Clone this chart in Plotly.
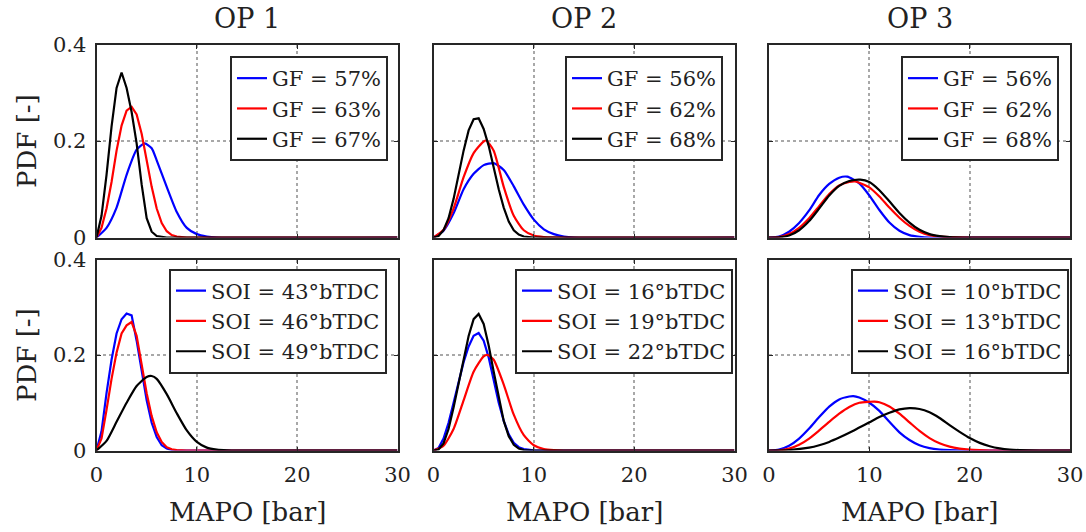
import plotly.graph_objects as go

W, H = 1086, 532
FONT = "DejaVu Serif"
TXT = "#222222"
AX = "#262626"
BLUE, RED, BLACK = "#0000ff", "#ff0000", "#000000"

# ---------------- data ----------------
# OP 1, gas fraction sweep
op1_gf57_x = [0, 1, 2, 3, 4, 4.8, 5.5, 6, 7, 8, 9, 10, 11, 12, 30]
op1_gf57_y = [0, 0.02, 0.062, 0.13, 0.182, 0.195, 0.185, 0.16, 0.105, 0.053, 0.02, 0.007, 0.002, 0, 0]
op1_gf63_x = [0, 0.5, 1, 1.5, 2, 2.5, 3, 3.5, 4, 4.5, 5, 5.5, 6, 6.5, 7, 7.5, 8, 9, 30]
op1_gf63_y = [0, 0.02, 0.06, 0.115, 0.18, 0.232, 0.263, 0.271, 0.255, 0.215, 0.16, 0.105, 0.06, 0.03, 0.013, 0.005, 0.002, 0, 0]
op1_gf67_x = [0, 0.5, 1, 1.5, 2, 2.5, 3, 3.5, 4, 4.5, 5, 5.5, 6, 7, 30]
op1_gf67_y = [0, 0.045, 0.13, 0.23, 0.31, 0.342, 0.31, 0.26, 0.195, 0.11, 0.04, 0.012, 0.003, 0, 0]

# OP 2, gas fraction sweep
op2_gf56_x = [0, 1, 2, 3, 4, 5, 6, 7, 8, 9, 10, 11, 12, 13, 14, 30]
op2_gf56_y = [0, 0.014, 0.05, 0.1, 0.132, 0.15, 0.154, 0.14, 0.106, 0.068, 0.037, 0.017, 0.007, 0.002, 0, 0]
op2_gf62_x = [0, 1, 2, 3, 4, 5, 5.25, 6, 7, 8, 9, 10, 11, 30]
op2_gf62_y = [0, 0.016, 0.06, 0.125, 0.175, 0.199, 0.201, 0.18, 0.105, 0.045, 0.015, 0.004, 0.001, 0]
op2_gf68_x = [0, 0.5, 1, 1.5, 2, 2.5, 3, 3.5, 4, 4.5, 5, 5.5, 6, 6.5, 7, 7.5, 8, 8.5, 9, 10, 30]
op2_gf68_y = [0, 0.003, 0.015, 0.04, 0.08, 0.13, 0.18, 0.222, 0.245, 0.247, 0.225, 0.19, 0.145, 0.1, 0.062, 0.033, 0.015, 0.006, 0.002, 0, 0]

# OP 3, gas fraction sweep
op3_gf56_x = [0, 1, 2, 3, 4, 5, 6, 7, 7.8, 9, 10, 11, 12, 13, 14, 15, 16, 30]
op3_gf56_y = [0, 0.002, 0.012, 0.03, 0.056, 0.088, 0.111, 0.124, 0.126, 0.112, 0.087, 0.057, 0.031, 0.014, 0.005, 0.0015, 0, 0]
op3_gf62_x = [0, 1, 2, 3, 4, 5, 6, 7, 8, 8.6, 10, 11, 12, 13, 14, 15, 16, 17, 18, 20, 30]
op3_gf62_y = [0, 0.001, 0.007, 0.02, 0.04, 0.065, 0.09, 0.108, 0.115, 0.116, 0.104, 0.085, 0.062, 0.041, 0.024, 0.012, 0.005, 0.002, 0.0007, 0, 0]
op3_gf68_x = [0, 1, 2, 3, 4, 5, 6, 7, 8, 9.1, 10, 11, 12, 13, 14, 15, 16, 17, 18, 20, 30]
op3_gf68_y = [0, 0.0005, 0.004, 0.015, 0.034, 0.06, 0.087, 0.107, 0.117, 0.12, 0.115, 0.098, 0.075, 0.051, 0.031, 0.016, 0.007, 0.003, 0.001, 0, 0]

# OP 1, start of injection sweep
op1_soi43_x = [0, 0.5, 1, 1.5, 2, 2.5, 3, 3.5, 4, 4.5, 5, 5.5, 6, 6.5, 7, 7.5, 8, 30]
op1_soi43_y = [0, 0.04, 0.12, 0.19, 0.245, 0.275, 0.287, 0.283, 0.23, 0.165, 0.105, 0.058, 0.028, 0.011, 0.004, 0.001, 0, 0]
op1_soi46_x = [0, 0.5, 1, 1.5, 2, 2.5, 3, 3.5, 4, 4.5, 5, 5.5, 6, 6.5, 7, 7.5, 8, 9, 30]
op1_soi46_y = [0, 0.025, 0.085, 0.15, 0.205, 0.245, 0.262, 0.269, 0.24, 0.18, 0.12, 0.072, 0.038, 0.018, 0.007, 0.0025, 0.0008, 0, 0]
op1_soi49_x = [0, 1, 2, 3, 4, 5, 5.5, 6, 7, 8, 9, 10, 11, 12, 13, 14, 30]
op1_soi49_y = [0, 0.02, 0.06, 0.1, 0.135, 0.154, 0.156, 0.15, 0.118, 0.078, 0.042, 0.018, 0.006, 0.002, 0.0005, 0, 0]

# OP 2, start of injection sweep
op2_soi16_x = [0, 0.5, 1, 1.5, 2, 2.5, 3, 3.5, 4, 4.5, 5, 5.5, 6, 6.5, 7, 7.5, 8, 8.5, 9, 10, 11, 30]
op2_soi16_y = [0, 0.005, 0.025, 0.058, 0.1, 0.145, 0.185, 0.218, 0.24, 0.246, 0.23, 0.195, 0.148, 0.1, 0.062, 0.034, 0.016, 0.007, 0.003, 0.0005, 0, 0]
op2_soi19_x = [0, 1, 2, 3, 4, 5, 5.4, 6, 7, 8, 9, 10, 11, 12, 13, 30]
op2_soi19_y = [0, 0.01, 0.045, 0.105, 0.165, 0.197, 0.2, 0.19, 0.138, 0.075, 0.032, 0.011, 0.003, 0.0007, 0, 0]
op2_soi22_x = [0, 0.5, 1, 1.5, 2, 2.5, 3, 3.5, 4, 4.5, 5, 5.5, 6, 6.5, 7, 7.5, 8, 8.5, 9, 10, 30]
op2_soi22_y = [0, 0.002, 0.015, 0.045, 0.09, 0.14, 0.19, 0.24, 0.275, 0.286, 0.265, 0.22, 0.165, 0.11, 0.062, 0.03, 0.012, 0.004, 0.001, 0, 0]

# OP 3, start of injection sweep
op3_soi10_x = [0, 1, 2, 3, 4, 5, 6, 7, 8, 8.4, 9, 10, 11, 12, 13, 14, 15, 16, 17, 18, 20, 30]
op3_soi10_y = [0, 0.002, 0.01, 0.025, 0.046, 0.07, 0.092, 0.107, 0.113, 0.114, 0.111, 0.1, 0.083, 0.06, 0.038, 0.022, 0.011, 0.005, 0.002, 0.0007, 0, 0]
op3_soi13_x = [0, 1, 2, 3, 4, 5, 6, 7, 8, 9, 10, 10.5, 11, 12, 13, 14, 15, 16, 17, 18, 19, 20, 21, 22, 30]
op3_soi13_y = [0, 0.0005, 0.004, 0.012, 0.025, 0.042, 0.06, 0.077, 0.091, 0.1, 0.102, 0.1025, 0.101, 0.092, 0.077, 0.059, 0.041, 0.026, 0.015, 0.008, 0.004, 0.0018, 0.0007, 0, 0]
op3_soi16_x = [0, 2, 4, 5, 6, 7, 8, 9, 10, 11, 12, 13, 14, 15, 16, 17, 18, 19, 20, 21, 22, 23, 24, 25, 27, 30]
op3_soi16_y = [0, 0.001, 0.006, 0.011, 0.018, 0.027, 0.037, 0.048, 0.059, 0.07, 0.079, 0.086, 0.0888, 0.087, 0.08, 0.068, 0.053, 0.039, 0.026, 0.016, 0.009, 0.0045, 0.002, 0.0008, 0, 0]

col_titles = ["OP 1", "OP 2", "OP 3"]
x_title = "MAPO [bar]"
y_title = "PDF [-]"
x_ticks = [0, 10, 20, 30]
y_ticks = [0, 0.2, 0.4]
y_ticktext = ["0", "0.2", "0.4"]

panels = [
    [(op1_gf57_x, op1_gf57_y, "GF = 57%", BLUE), (op1_gf63_x, op1_gf63_y, "GF = 63%", RED), (op1_gf67_x, op1_gf67_y, "GF = 67%", BLACK)],
    [(op2_gf56_x, op2_gf56_y, "GF = 56%", BLUE), (op2_gf62_x, op2_gf62_y, "GF = 62%", RED), (op2_gf68_x, op2_gf68_y, "GF = 68%", BLACK)],
    [(op3_gf56_x, op3_gf56_y, "GF = 56%", BLUE), (op3_gf62_x, op3_gf62_y, "GF = 62%", RED), (op3_gf68_x, op3_gf68_y, "GF = 68%", BLACK)],
    [(op1_soi43_x, op1_soi43_y, "SOI = 43°bTDC", BLUE), (op1_soi46_x, op1_soi46_y, "SOI = 46°bTDC", RED), (op1_soi49_x, op1_soi49_y, "SOI = 49°bTDC", BLACK)],
    [(op2_soi16_x, op2_soi16_y, "SOI = 16°bTDC", BLUE), (op2_soi19_x, op2_soi19_y, "SOI = 19°bTDC", RED), (op2_soi22_x, op2_soi22_y, "SOI = 22°bTDC", BLACK)],
    [(op3_soi10_x, op3_soi10_y, "SOI = 10°bTDC", BLUE), (op3_soi13_x, op3_soi13_y, "SOI = 13°bTDC", RED), (op3_soi16_x, op3_soi16_y, "SOI = 16°bTDC", BLACK)],
]

# ---------------- layout geometry (pixels) ----------------
col_px = [(96.5, 397.5), (433.5, 734.5), (769.0, 1070.0)]
row_px = [(44.5, 237.5), (259.5, 450.5)]
legend_px = [(388, 56), (723, 56), (1059, 56), (387, 268.5), (733, 268.5), (1069, 268.5)]

fig = go.Figure()
layout = {}
for i, curves in enumerate(panels):
    r, c = divmod(i, 3)
    n = "" if i == 0 else str(i + 1)
    lg = "legend" if i == 0 else f"legend{i + 1}"
    for xs, ys, name, color in curves:
        step = xs[2] - xs[1]
        fig.add_trace(go.Scatter(
            x=xs, y=ys, name=name, mode="lines",
            line=dict(color=color, width=2.2, shape="linear" if step < 1 else "spline", smoothing=0.6),
            xaxis=f"x{n}", yaxis=f"y{n}", legend=lg, showlegend=True,
        ))
    x0, x1 = col_px[c]
    y0, y1 = row_px[r]
    common = dict(
        ticks="inside", ticklen=4, tickwidth=1, tickcolor=AX,
        showline=True, linecolor=AX, linewidth=2, mirror="ticks",
        showgrid=True, gridcolor="#a8a8a8", griddash="dot", gridwidth=1.5,
        zeroline=False, tickfont=dict(family=FONT, size=21, color=TXT),
        fixedrange=True, automargin=False,
    )
    layout[f"xaxis{n}"] = dict(common, domain=[x0 / W, x1 / W], anchor=f"y{n}", range=[0, 30],
                               tickvals=x_ticks, showticklabels=(r == 1), ticklabelstandoff=4)
    layout[f"yaxis{n}"] = dict(common, domain=[1 - y1 / H, 1 - y0 / H], anchor=f"x{n}", range=[0, 0.4],
                               tickvals=y_ticks, ticktext=y_ticktext, showticklabels=(c == 0),
                               ticklabelstandoff=4)
    lx, ly = legend_px[i]
    layout[lg] = dict(x=lx / W, y=1 - ly / H, xanchor="right", yanchor="top",
                      bgcolor="white", bordercolor=AX, borderwidth=2,
                      font=dict(family=FONT, size=21, color=TXT),
                      itemwidth=30, tracegroupgap=0, traceorder="normal")

annotations = []
for c, t in enumerate(col_titles):
    cx = (col_px[c][0] + col_px[c][1]) / 2
    annotations.append(dict(text=t, x=cx / W, y=1 - 19 / H, xref="paper", yref="paper",
                            xanchor="center", yanchor="middle", showarrow=False,
                            font=dict(family=FONT, size=27, color=TXT)))
    annotations.append(dict(text=x_title, x=cx / W, y=1 - 512 / H, xref="paper", yref="paper",
                            xanchor="center", yanchor="middle", showarrow=False,
                            font=dict(family=FONT, size=26, color=TXT)))
for r in range(2):
    cy = (row_px[r][0] + row_px[r][1]) / 2
    annotations.append(dict(text=y_title, x=27 / W, y=1 - cy / H, xref="paper", yref="paper",
                            xanchor="center", yanchor="middle", showarrow=False, textangle=-90,
                            font=dict(family=FONT, size=26, color=TXT)))

fig.update_layout(
    width=W, height=H, autosize=False,
    margin=dict(l=0, r=0, t=0, b=0, autoexpand=False),
    paper_bgcolor="white", plot_bgcolor="white",
    annotations=annotations,
    **layout,
)

fig.write_html("out.html")
